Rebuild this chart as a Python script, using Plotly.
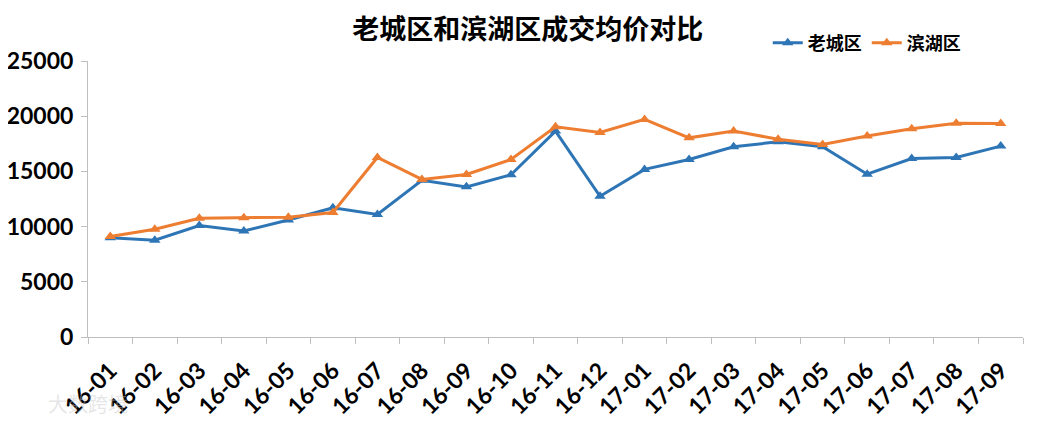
import plotly.graph_objects as go

meses = ['16-01', '16-02', '16-03', '16-04', '16-05', '16-06', '16-07', '16-08', '16-09', '16-10', '16-11',
         '16-12', '17-01', '17-02', '17-03', '17-04', '17-05', '17-06', '17-07', '17-08', '17-09']
laocheng = [9000, 8770, 10100, 9600, 10600, 11700, 11100, 14200, 13600, 14700, 18650,
            12750, 15180, 16080, 17230, 17680, 17230, 14750, 16170, 16260, 17290]
binhu = [9100, 9760, 10760, 10800, 10850, 11280, 16260, 14270, 14720, 16080, 19040,
         18530, 19710, 18040, 18650, 17920, 17440, 18200, 18860, 19370, 19330]

fonte = 'Lato, "Noto Sans CJK SC", sans-serif'
fonte_cjk = '"Noto Sans CJK SC", sans-serif'
azul = '#2E75B6'
laranja = '#ED7D31'

fig = go.Figure()
fig.add_trace(go.Scatter(x=meses, y=laocheng, name='老城区', mode='lines+markers',
                         line=dict(color=azul, width=3),
                         marker=dict(symbol='triangle-up', size=10, color=azul)))
fig.add_trace(go.Scatter(x=meses, y=binhu, name='滨湖区', mode='lines+markers',
                         line=dict(color=laranja, width=3),
                         marker=dict(symbol='triangle-up', size=10, color=laranja)))

# a página tem 8px de margem no body, por isso a figura é um pouco menor
fig.update_layout(
    width=1029, height=423,
    margin=dict(l=80, r=14, t=53, b=94, autoexpand=False),
    paper_bgcolor='white', plot_bgcolor='white',
    font=dict(family=fonte, color='black'),
    title=dict(text='老城区和滨湖区成交均价对比', x=0.505, xanchor='center', y=0.95, yanchor='middle',
               font=dict(size=27, weight='bold', family=fonte_cjk)),
    legend=dict(orientation='h', x=0.727, xanchor='left', y=1.065, yanchor='middle',
                font=dict(size=18, weight='bold', family=fonte_cjk),
                itemwidth=30, tracegroupgap=0, bgcolor='rgba(0,0,0,0)'),
    showlegend=True,
)

fig.update_xaxes(type='category', range=[-0.5, len(meses) - 0.5], automargin=False,
                 showline=True, linecolor='#BFBFBF', linewidth=1,
                 ticks='outside', tickson='boundaries', ticklen=6, tickcolor='#BFBFBF',
                 tickangle=-45, showgrid=False, zeroline=False, ticklabelstandoff=10,
                 tickfont=dict(size=23, weight='bold', family=fonte))
fig.update_yaxes(range=[0, 25000], dtick=5000, tickformat='d', automargin=False,
                 showline=True, linecolor='#BFBFBF', linewidth=1,
                 ticks='outside', ticklen=6, tickcolor='#BFBFBF', showgrid=False, zeroline=False,
                 tickfont=dict(size=23, weight='bold', family=fonte), ticklabelstandoff=3)

# marca d'água (bem clara, como no original)
fig.add_annotation(text='大数跨境', xref='paper', yref='paper', x=-0.045, y=-0.3, xanchor='left',
                   showarrow=False, font=dict(size=20, color='rgba(200,200,200,0.45)', family=fonte_cjk))

fig.write_html('out.html')
